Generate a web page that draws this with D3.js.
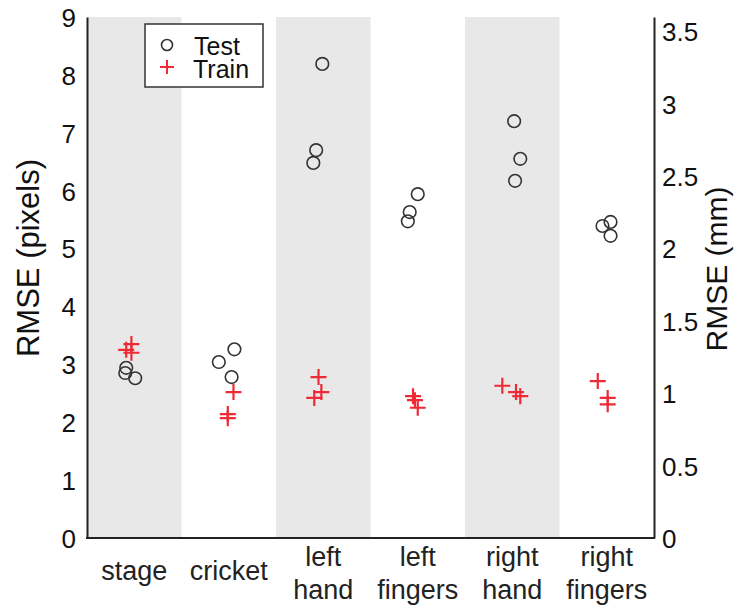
<!DOCTYPE html>
<html><head><meta charset="utf-8">
<script src="https://cdn.jsdelivr.net/npm/d3@7"></script>
<style>body{margin:0;background:#fff}svg{display:block;font-family:"Liberation Sans",Arial,sans-serif}</style>
</head><body><svg id="c" width="743" height="607"></svg>
<script>
const categories = [["stage"],["cricket"],["left","hand"],["left","fingers"],["right","hand"],["right","fingers"]];
const testValues = [[2.94,2.85,2.76],[3.26,3.04,2.78],[8.19,6.70,6.48],[5.94,5.63,5.47],[7.20,6.55,6.17],[5.39,5.46,5.22]];
const testJitter = [[-0.085,-0.095,0.01],[0.06,-0.105,0.03],[-0.01,-0.075,-0.105],[0,-0.085,-0.105],[0.02,0.085,0.03],[-0.045,0.04,0.04]];
const trainValues = [[3.35,3.25,3.20],[2.52,2.14,2.07],[2.78,2.52,2.42],[2.45,2.38,2.25],[2.63,2.52,2.45],[2.71,2.42,2.31]];
const trainJitter = [[-0.03,-0.085,-0.03],[0.05,-0.01,-0.01],[-0.05,-0.02,-0.095],[-0.05,-0.03,0],[-0.105,0.04,0.085],[-0.095,0.01,0.01]];
const leftTicks = [0,1,2,3,4,5,6,7,8,9];
const rightTicks = [0,0.5,1,1.5,2,2.5,3,3.5];
const pxToMm = 0.4;

const svg = d3.select("#c");
const L = 87, R = 654, T = 17, B = 538;
const x = d3.scaleBand().domain(d3.range(categories.length)).range([L, R]).padding(0);
const xc = d3.scaleLinear().domain([-0.5, categories.length - 0.5]).range([L, R]);
const y = d3.scaleLinear().domain([0, 9]).range([B, T]);
const y2 = d3.scaleLinear().domain([0, 9 * pxToMm]).range([B, T]);
const FONT = "Liberation Sans, Arial, sans-serif";

// bands
svg.selectAll("rect.band").data(categories.map((c,i)=>i).filter(i=>i%2===0)).enter()
  .append("rect").attr("x", i=>x(i)).attr("y", T).attr("width", x.bandwidth()).attr("height", B-T).attr("fill", "#e8e8e8");

// axes
const ga = svg.append("g").attr("transform", `translate(${L},0)`)
  .call(d3.axisLeft(y).tickValues(leftTicks).tickSize(0).tickPadding(11).tickFormat(d3.format("d")));
ga.select(".domain").attr("stroke", "#222").attr("stroke-width", 2);
ga.selectAll("text").attr("font-size", 26).attr("fill", "#111").attr("font-family", FONT).attr("dy", "0.36em");

const gr = svg.append("g").attr("transform", `translate(${R},0)`)
  .call(d3.axisRight(y2).tickValues(rightTicks).tickSize(0).tickPadding(8).tickFormat(d => d));
gr.select(".domain").attr("stroke", "#222").attr("stroke-width", 2);
gr.selectAll("text").attr("font-size", 26).attr("fill", "#111").attr("font-family", FONT).attr("dy", "0.36em");

svg.append("line").attr("x1", L-1).attr("x2", R+1).attr("y1", B).attr("y2", B).attr("stroke", "#222").attr("stroke-width", 2);

// category labels
categories.forEach((lines, i) => {
  const cx = x(i) + x.bandwidth()/2;
  const t = svg.append("text").attr("x", cx).attr("text-anchor", "middle")
    .attr("font-size", 27).attr("fill", "#222");
  if (lines.length === 1) {
    t.append("tspan").attr("x", cx).attr("y", 580).text(lines[0]);
  } else {
    t.append("tspan").attr("x", cx).attr("y", 566).text(lines[0]);
    t.append("tspan").attr("x", cx).attr("y", 599).text(lines[1]);
  }
});

// axis titles
svg.append("text").attr("transform", `translate(39,258) rotate(-90)`).attr("text-anchor", "middle")
  .attr("font-size", 31).attr("fill", "#111").text("RMSE (pixels)");
svg.append("text").attr("transform", `translate(727,269) rotate(-90)`).attr("text-anchor", "middle")
  .attr("font-size", 30).attr("fill", "#111").text("RMSE (mm)");

// points
const red = "#ee2a35";
function crossPath(cx, cy, s) { return `M${cx-s},${cy}H${cx+s}M${cx},${cy-s}V${cy+s}`; }
const trainPts = [], testPts = [];
categories.forEach((c, i) => {
  trainValues[i].forEach((v, k) => trainPts.push({i, v, j: trainJitter[i][k]}));
  testValues[i].forEach((v, k) => testPts.push({i, v, j: testJitter[i][k]}));
});
svg.selectAll("path.train").data(trainPts).enter().append("path")
  .attr("d", d => crossPath(xc(d.i + d.j), y(d.v), 8)).attr("stroke", red).attr("stroke-width", 2.2).attr("fill", "none");
svg.selectAll("circle.test").data(testPts).enter().append("circle")
  .attr("cx", d => xc(d.i + d.j)).attr("cy", d => y(d.v)).attr("r", 6.3)
  .attr("fill", "none").attr("stroke", "#333").attr("stroke-width", 1.6);

// legend
const lg = svg.append("g");
lg.append("rect").attr("x", 145).attr("y", 24).attr("width", 118).attr("height", 63).attr("fill", "#fff").attr("stroke", "#333").attr("stroke-width", 1.5);
lg.append("circle").attr("cx", 167).attr("cy", 45).attr("r", 5.5).attr("fill", "none").attr("stroke", "#333").attr("stroke-width", 1.6);
lg.append("path").attr("d", crossPath(167, 67, 7)).attr("stroke", red).attr("stroke-width", 2).attr("fill", "none");
lg.append("text").attr("x", 194).attr("y", 55).attr("font-size", 25).attr("fill", "#111").text("Test");
lg.append("text").attr("x", 193).attr("y", 78).attr("font-size", 25).attr("fill", "#111").text("Train");
</script></body></html>
